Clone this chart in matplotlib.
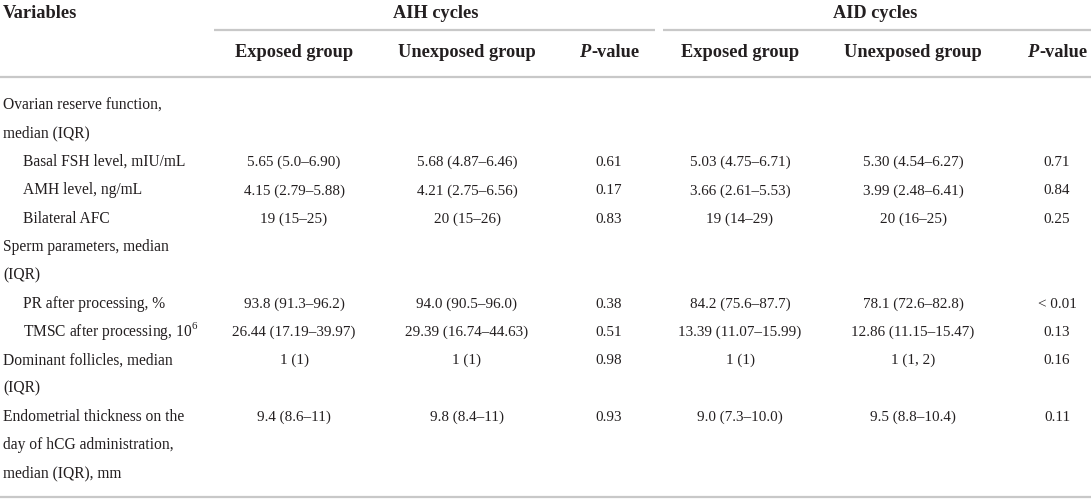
import matplotlib
matplotlib.use("Agg")
import matplotlib.pyplot as plt

plt.rcParams['font.family'] = ['Liberation Serif', 'DejaVu Serif']
plt.rcParams['mathtext.fontset'] = 'custom'
plt.rcParams['mathtext.rm'] = 'Liberation Serif'

# table content
groups = ["AIH cycles", "AID cycles"]
col_headers = ["Exposed group", "Unexposed group", "P-value",
               "Exposed group", "Unexposed group", "P-value"]

row_labels = [
    ["Ovarian reserve function,", "median (IQR)"],
    ["Basal FSH level, mIU/mL"],
    ["AMH level, ng/mL"],
    ["Bilateral AFC"],
    ["Sperm parameters, median", "(IQR)"],
    ["PR after processing, %"],
    ["TMSC after processing, 10$^{6}$"],
    ["Dominant follicles, median", "(IQR)"],
    ["Endometrial thickness on the", "day of hCG administration,", "median (IQR), mm"],
]
row_indent = [False, True, True, True, False, True, True, False, False]

aih_exposed = [None, "5.65 (5.0–6.90)", "4.15 (2.79–5.88)", "19 (15–25)", None,
               "93.8 (91.3–96.2)", "26.44 (17.19–39.97)", "1 (1)", "9.4 (8.6–11)"]
aih_unexposed = [None, "5.68 (4.87–6.46)", "4.21 (2.75–6.56)", "20 (15–26)", None,
                 "94.0 (90.5–96.0)", "29.39 (16.74–44.63)", "1 (1)", "9.8 (8.4–11)"]
aih_p = [None, "0.61", "0.17", "0.83", None, "0.38", "0.51", "0.98", "0.93"]
aid_exposed = [None, "5.03 (4.75–6.71)", "3.66 (2.61–5.53)", "19 (14–29)", None,
               "84.2 (75.6–87.7)", "13.39 (11.07–15.99)", "1 (1)", "9.0 (7.3–10.0)"]
aid_unexposed = [None, "5.30 (4.54–6.27)", "3.99 (2.48–6.41)", "20 (16–25)", None,
                 "78.1 (72.6–82.8)", "12.86 (11.15–15.47)", "1 (1, 2)", "9.5 (8.8–10.4)"]
aid_p = [None, "0.71", "0.84", "0.25", None, "< 0.01", "0.13", "0.16", "0.11"]

columns = [aih_exposed, aih_unexposed, aih_p, aid_exposed, aid_unexposed, aid_p]

W, H = 1091, 502
col_x = [294, 467, 609, 740, 913, 1057]
group_x = [436, 875]
group_lines = [(214, 655), (663, 1091)]
line_color = '#c8c8c8'
text_color = '#231f20'
label_size = 11.2
value_size = 10.9
head_size = 13.2

fig = plt.figure(figsize=(W / 100, H / 100), dpi=100)
ax = fig.add_axes([0, 0, 1, 1])
ax.set_xlim(0, W)
ax.set_ylim(H, 0)
ax.axis('off')

# header
ax.text(3, 18, "Variables", fontsize=head_size, fontweight='bold', color=text_color,
        ha='left', va='baseline')
for gx, g in zip(group_x, groups):
    ax.text(gx, 18, g, fontsize=head_size, fontweight='bold', color=text_color,
            ha='center', va='baseline')
for x0, x1 in group_lines:
    ax.plot([x0, x1], [31, 31], color=line_color, lw=1.6, solid_capstyle='butt')

fig.canvas.draw()
renderer = fig.canvas.get_renderer()
inv = ax.transData.inverted()


def text_width(t):
    bb = t.get_window_extent(renderer)
    (a, _), (b, _) = inv.transform([[bb.x0, bb.y0], [bb.x1, bb.y1]])
    return b - a


for cx, h in zip(col_x, col_headers):
    if h == "P-value":
        tp = ax.text(0, 57, "P", fontsize=head_size, fontweight='bold', style='italic',
                     color=text_color, ha='left', va='baseline')
        tv = ax.text(0, 57, "-value", fontsize=head_size, fontweight='bold',
                     color=text_color, ha='left', va='baseline')
        wp, wv = text_width(tp), text_width(tv)
        start = cx - (wp + wv) / 2
        tp.set_x(start)
        tv.set_x(start + wp + 0.5)
    else:
        ax.text(cx, 57, h, fontsize=head_size, fontweight='bold', color=text_color,
                ha='center', va='baseline')

ax.plot([0, W], [78, 78], color=line_color, lw=1.6, solid_capstyle='butt')

# body
y0 = 109.5
step = 28.3
line_no = 0
for i, lines in enumerate(row_labels):
    y = y0 + line_no * step
    lx = 23 if row_indent[i] else 3
    for k, lab in enumerate(lines):
        ax.text(lx, y + k * step, lab, fontsize=label_size, color=text_color,
                ha='left', va='baseline')
    for cx, col in zip(col_x, columns):
        if col[i] is not None:
            ax.text(cx, y, col[i], fontsize=value_size, color=text_color,
                    ha='center', va='baseline')
    line_no += len(lines)

ax.plot([0, W], [498, 498], color=line_color, lw=1.6, solid_capstyle='butt')

fig.savefig("out.png", dpi=100)
